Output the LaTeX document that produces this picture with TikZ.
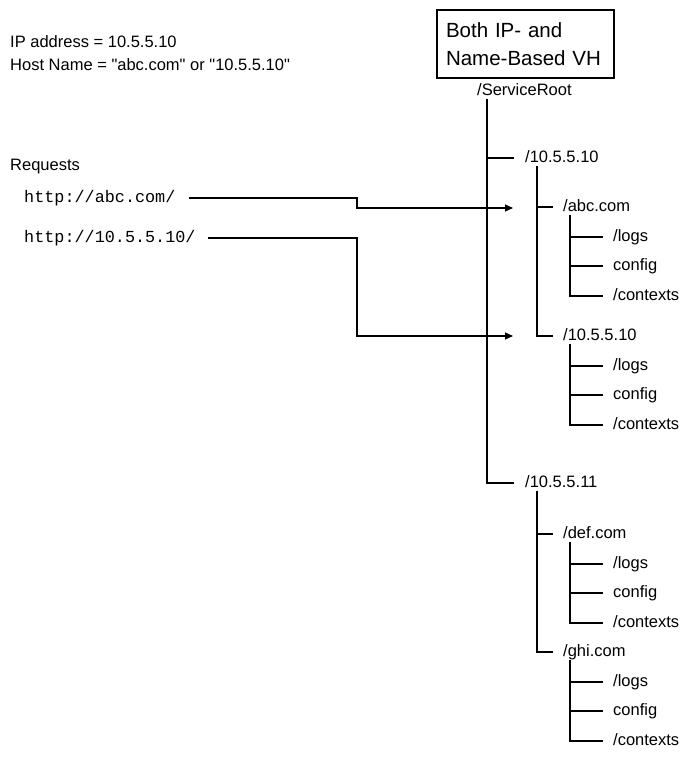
\documentclass[tikz,border=0pt]{standalone}
\usepackage{fontspec}
\setmainfont{Liberation Sans}[Ligatures=TeXOff]
\setmonofont{Liberation Mono}
\usetikzlibrary{arrows.meta}

\tikzset{
  lbl/.style={anchor=west, inner sep=0pt, text height=12pt, text depth=3.5pt,
    font=\fontsize{16.5}{20}\selectfont},
  url/.style={lbl, font=\fontsize{16.8}{20}\ttfamily},
  rama/.style={line width=1.1pt},
  flecha/.style={rama, -{Triangle[length=8pt,width=7pt]}},
}

\begin{document}
\begin{tikzpicture}[x=1pt,y=-1pt]
  \useasboundingbox (0,0) rectangle (685,759);
  % Parámetros: separación de las hojas
  \def\paso{29.5}

  % Datos del host
  \node[lbl] (ip) at (10,43) {IP address = 10.5.5.10};
  \node[lbl] (host) at (10,66) {Host Name = "abc.com" or "10.5.5.10"};

  % Caja del tipo de host virtual
  \node[draw, rama, align=left, text width=159pt, inner xsep=9pt, minimum height=68pt,
    font=\fontsize{20.5}{28}\selectfont] (caja) at (525.5,44) {Both IP- and\\Name-Based VH};

  % Peticiones
  \node[lbl] (req) at (10,166) {Requests};
  \node[url] (urla) at (24,198) {http://abc.com/};
  \node[url] (urlb) at (24,238) {http://10.5.5.10/};

  % Árbol de directorios
  \node[lbl] (root) at (477,91) {/ServiceRoot};
  \node[lbl] (ipa) at (525,158) {/10.5.5.10};
  \node[lbl] (abc) at (563,207) {/abc.com};
  \node[lbl] (ipb) at (563,336) {/10.5.5.10};
  \node[lbl] (ipc) at (525,483) {/10.5.5.11};
  \node[lbl] (def) at (563,534) {/def.com};
  \node[lbl] (ghi) at (563,652) {/ghi.com};

  % Troncos verticales
  \coordinate (x0) at ([xshift=10pt]root.south west);
  \coordinate (x1) at ([xshift=12pt]ipa.south west);
  \coordinate (x2) at ([xshift=12pt]ipc.south west);
  \draw[rama] (x0) |- ([xshift=-11pt]ipc.west);
  \draw[rama] (x0 |- ipa.west) -- ([xshift=-11pt]ipa.west);
  \draw[rama] (x1) |- ([xshift=-10pt]ipb.west);
  \draw[rama] (x1 |- abc.west) -- ([xshift=-10pt]abc.west);
  \draw[rama] (x2) |- ([xshift=-10pt]ghi.west);
  \draw[rama] (x2 |- def.west) -- ([xshift=-10pt]def.west);

  % Hojas: /logs, config, /contexts
  \foreach \g/\y in {abc/207, ipb/336, def/534, ghi/652}{
    \node[lbl] (\g-logs) at (613,{round(\y+\paso)}) {/logs};
    \node[lbl] (\g-conf) at (613,{round(\y+2*\paso)}) {config};
    \node[lbl] (\g-ctx) at (613,{round(\y+3*\paso)}) {/contexts};
    \coordinate (\g-x) at ([xshift=7pt]\g.south west);
    \draw[rama] (\g-x) |- ([xshift=-10pt]\g-ctx.west);
    \draw[rama] (\g-x |- \g-logs.west) -- ([xshift=-10pt]\g-logs.west);
    \draw[rama] (\g-x |- \g-conf.west) -- ([xshift=-10pt]\g-conf.west);
  }

  % Flechas de las peticiones
  \coordinate (bx) at (357,0);
  \coordinate (tipa) at (513,208);
  \coordinate (tipb) at (513,336);
  \draw[flecha] ([xshift=13pt]urla.east) -- (bx |- urla.east) |- (tipa);
  \draw[flecha] ([xshift=12pt]urlb.east) -- (bx |- urlb.east) |- (tipb);
\end{tikzpicture}
\end{document}
